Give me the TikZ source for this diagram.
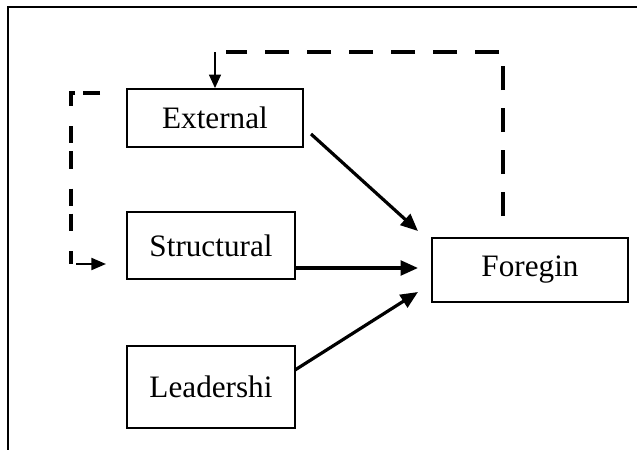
\documentclass[tikz,border=0pt]{standalone}
\usepackage{fontspec}
\setmainfont{Liberation Serif}
\usetikzlibrary{arrows.meta}
\begin{document}
\begin{tikzpicture}[x=0.75pt,y=-0.75pt,
  box/.style={draw, line width=1.5pt, inner sep=0pt, font=\fontsize{23.4}{28}\selectfont},
  mainarrow/.style={line width=2.4pt, -{Triangle[length=13pt,width=11pt]}},
  fb/.style={line width=3.2pt, dash pattern=on 18pt off 13.5pt},
  thinarrow/.style={line width=0.8pt, -{Triangle[length=10pt,width=9pt]}},
  midarrow/.style={line width=1.6pt, -{Triangle[length=11pt,width=9pt]}}]
\useasboundingbox (0,0) rectangle (637,450);
% frame
\coordinate (ftl) at (8,7);
\coordinate (ftr) at (637,7);
\coordinate (fbl) at (8,450);
\draw[line width=1.5pt] (ftr) -- (ftl) -- (fbl);
% nodes
\node[box, minimum width=132pt, minimum height=43.5pt] (ext) at (215,118) {External};
\node[box, minimum width=126pt, minimum height=50pt] (str) at (211,245.5) {Structural};
\node[box, minimum width=126pt, minimum height=61.5pt] (lead) at (211,387) {Leadershi};
\node[box, minimum width=147pt, minimum height=48pt] (for) at (530,270) {Foregin};
% main arrows
\coordinate (e1) at (311,134);
\coordinate (e2) at (418,231);
\draw[mainarrow] (e1) -- (e2);
\coordinate (s2) at (418,268);
\draw[mainarrow] (str.east |- s2) -- (s2);
\coordinate (l1) at (295,370);
\coordinate (l2) at (418,292);
\draw[mainarrow] (l1) -- (l2);
% feedback dashed top
\coordinate (r0) at (503,216);
\coordinate (r1) at (503,52);
\coordinate (r2) at (226,52);
\draw[fb] (r0) -- (r1) -- (r2);
\coordinate (t1) at (215,52);
\draw[thinarrow] (t1) -- (ext.north -| t1);
% feedback dashed left
\coordinate (q0) at (100,93);
\coordinate (q1) at (71,93);
\coordinate (q2) at (71,264);
\draw[fb, dash pattern=on 12.75pt off 6pt on 13pt off 15pt] (q0) -- (q1) -- (q2);
\coordinate (a1) at (76,264);
\coordinate (a2) at (106,264);
\draw[midarrow] (a1) -- (a2);
\end{tikzpicture}
\end{document}
